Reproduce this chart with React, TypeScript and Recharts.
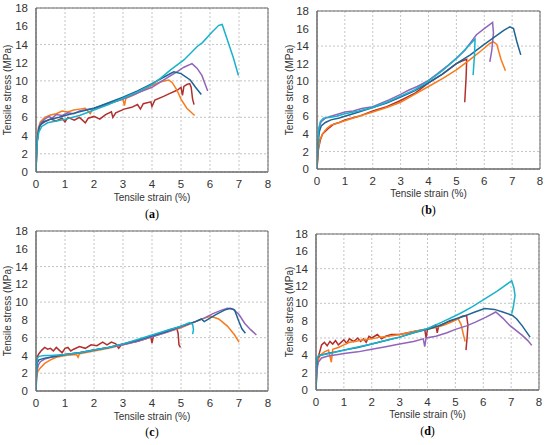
import React from "react";
import { LineChart, Line, XAxis, YAxis, CartesianGrid, ReferenceArea } from "recharts";

// ---- tick labels ----
const xTicks = [0, 1, 2, 3, 4, 5, 6, 7, 8];
const yTicks = [0, 2, 4, 6, 8, 10, 12, 14, 16, 18];
const xTitle = "Tensile strain (%)";
const yTitle = "Tensile stress (MPa)";
const captions = ["a", "b", "c", "d"];

// ---- panel (a) ----
const aRed = [[0,0],[0.03,3],[0.08,4.5],[0.15,5.2],[0.3,5.5],[0.5,5.8],[0.7,5.6],[0.9,5.9],[1.0,5.5],[1.1,6.0],[1.32,5.7],[1.5,6.0],[1.7,5.4],[1.8,5.9],[2.0,6.1],[2.2,5.8],[2.4,6.3],[2.6,6.6],[2.65,6.0],[2.75,6.5],[3.04,6.9],[3.3,7.1],[3.5,7.4],[3.6,6.9],[3.7,7.5],[3.96,7.7],[4.0,7.2],[4.1,7.9],[4.4,8.3],[4.6,8.6],[4.88,9.0],[5.0,9.3],[5.05,8.4],[5.1,9.4],[5.2,9.6],[5.3,9.7],[5.35,9.3],[5.4,8.0],[5.45,7.4]];
const aOrange = [[0,0],[0.03,3],[0.08,4.8],[0.15,5.5],[0.3,6.0],[0.5,6.25],[0.7,6.4],[0.9,6.7],[1.1,6.6],[1.3,6.8],[1.5,6.9],[1.7,7.0],[1.87,6.4],[1.95,6.9],[2.2,7.1],[2.5,7.5],[2.8,7.8],[3.0,8.0],[3.05,7.3],[3.1,8.1],[3.4,8.5],[3.7,9.0],[4.0,9.5],[4.3,9.9],[4.58,10.1],[4.7,9.8],[4.86,9.0],[5.0,8.0],[5.2,7.0],[5.47,6.2]];
const aPurple = [[0,0],[0.03,3],[0.08,4.5],[0.15,5.3],[0.3,5.8],[0.45,6.1],[0.55,5.9],[0.7,6.3],[0.9,6.2],[1.1,6.5],[1.3,6.4],[1.5,6.7],[1.8,6.9],[2.0,7.0],[2.3,7.3],[2.6,7.6],[3.0,8.0],[3.3,8.4],[3.6,8.8],[4.0,9.3],[4.3,9.9],[4.6,10.5],[4.86,11.0],[5.1,11.5],[5.38,11.9],[5.55,11.4],[5.72,10.6],[5.85,9.5],[5.92,8.9]];
const aBlue = [[0,0],[0.02,2.5],[0.06,4],[0.12,5],[0.25,5.5],[0.5,5.8],[0.8,6.0],[1.0,6.2],[1.5,6.6],[2.0,7.0],[2.5,7.6],[3.0,8.2],[3.5,8.9],[4.0,9.7],[4.4,10.4],[4.75,11.0],[5.0,10.8],[5.32,10.1],[5.5,9.3],[5.7,8.5]];
const aCyan = [[0,0],[0.02,2],[0.05,3.5],[0.1,4.4],[0.2,5.0],[0.4,5.4],[0.7,5.6],[1.0,5.8],[1.5,6.2],[2.0,6.8],[2.5,7.4],[3.0,8.1],[3.5,8.8],[4.0,9.6],[4.3,10.3],[4.64,11.2],[5.1,12.3],[5.57,13.8],[5.74,14.2],[6.08,15.4],[6.3,16.1],[6.42,16.2],[6.6,14.5],[6.8,12.6],[6.98,10.6]];

// ---- panel (b) ----
const bRed = [[0,0],[0.05,2.3],[0.12,3.3],[0.2,4.0],[0.4,4.6],[0.6,5.1],[0.8,5.3],[1.0,5.6],[1.5,6.0],[2.0,6.6],[2.5,7.1],[3.0,7.8],[3.3,8.3],[3.5,8.6],[4.0,9.8],[4.5,10.8],[5.0,12.0],[5.2,12.3],[5.37,12.5],[5.35,10.5],[5.3,7.6]];
const bOrange = [[0,0],[0.04,2],[0.1,3.3],[0.2,4.0],[0.35,4.6],[0.5,5.0],[0.8,5.3],[1.0,5.5],[1.5,6.0],[2.0,6.5],[2.5,7.0],[3.0,7.6],[3.5,8.5],[4.0,9.4],[4.5,10.3],[5.0,11.3],[5.5,12.5],[5.9,13.5],[6.2,14.3],[6.32,14.5],[6.45,14.2],[6.6,12.5],[6.76,11.2]];
const bPurple = [[0,0],[0.03,3],[0.08,4.8],[0.15,5.4],[0.3,5.8],[0.5,6.0],[0.8,6.3],[1.0,6.5],[1.3,6.6],[1.6,6.9],[2.0,7.1],[2.3,7.5],[2.6,7.9],[3.0,8.5],[3.3,9.0],[3.6,9.4],[4.0,10.1],[4.3,10.8],[4.7,11.8],[5.0,12.6],[5.3,13.5],[5.72,15.3],[6.0,16.0],[6.3,16.7],[6.33,15.5],[6.27,13.5],[6.2,12.2]];
const bBlue = [[0,0],[0.03,2.5],[0.08,4.2],[0.15,4.9],[0.3,5.3],[0.5,5.6],[0.8,5.8],[1.0,6.0],[1.5,6.5],[2.0,7.0],[2.5,7.5],[3.0,8.2],[3.5,8.9],[4.0,9.8],[4.5,10.8],[5.0,12.0],[5.5,13.0],[6.0,14.2],[6.4,15.1],[6.7,15.8],[6.92,16.2],[7.05,16.0],[7.17,14.5],[7.31,13.0]];
const bCyan = [[0,0],[0.02,2],[0.06,4.5],[0.12,5.4],[0.23,5.8],[0.5,5.9],[0.7,6.0],[1.0,6.3],[1.5,6.6],[2.0,7.0],[2.5,7.6],[3.0,8.3],[3.5,9.0],[4.0,10.0],[4.5,11.2],[5.0,12.6],[5.4,13.9],[5.67,14.8],[5.65,13],[5.6,10.7]];

// ---- panel (c) ----
const cRed = [[0,0],[0.02,3],[0.05,3.9],[0.1,4.2],[0.2,4.6],[0.3,4.9],[0.4,4.7],[0.5,4.8],[0.6,4.5],[0.7,4.9],[0.8,4.6],[0.9,4.3],[1.0,4.8],[1.1,4.9],[1.2,4.5],[1.3,4.7],[1.5,5.0],[1.7,4.8],[1.9,5.2],[2.1,5.1],[2.3,5.5],[2.45,5.2],[2.6,5.5],[2.75,5.3],[2.85,4.8],[2.95,5.2],[3.2,5.4],[3.5,5.6],[3.8,5.9],[3.95,6.2],[4.0,5.4],[4.05,6.2],[4.3,6.5],[4.6,6.9],[4.85,7.1],[4.9,6.5],[4.93,5.2],[4.98,4.9]];
const cOrange = [[0,0],[0.02,1.5],[0.06,2.2],[0.15,2.6],[0.3,3.1],[0.5,3.5],[0.7,3.8],[1.0,4.0],[1.4,4.1],[1.45,3.8],[1.5,4.2],[2.0,4.5],[2.5,4.8],[3.0,5.2],[3.5,5.6],[4.0,6.1],[4.5,6.6],[5.0,7.1],[5.5,7.8],[5.8,8.2],[6.03,8.4],[6.3,8.1],[6.6,7.3],[6.85,6.3],[7.0,5.5]];
const cPurple = [[0,0],[0.03,2.2],[0.08,2.9],[0.15,3.3],[0.3,3.6],[0.5,3.8],[1.0,4.1],[1.5,4.3],[2.0,4.6],[2.5,4.9],[3.0,5.2],[3.5,5.6],[4.0,6.1],[4.5,6.6],[5.0,7.2],[5.5,7.8],[5.8,8.2],[6.1,8.7],[6.4,9.1],[6.6,9.3],[6.8,9.2],[7.0,8.6],[7.2,7.6],[7.4,6.9],[7.6,6.3]];
const cBlue = [[0,0],[0.02,2.5],[0.05,3.2],[0.1,3.5],[0.3,3.7],[0.5,3.8],[1.0,4.1],[1.5,4.3],[2.0,4.6],[2.5,4.9],[3.0,5.3],[3.5,5.7],[4.0,6.2],[4.5,6.7],[5.0,7.3],[5.5,7.8],[5.7,8.1],[5.8,7.8],[5.9,8.0],[6.2,8.6],[6.5,9.1],[6.7,9.3],[6.85,9.1],[7.0,7.8],[7.1,7.0],[7.22,6.5]];
const cCyan = [[0,0],[0.02,2.8],[0.05,3.7],[0.1,3.9],[0.3,4.0],[0.5,4.0],[1.0,4.1],[1.5,4.3],[2.0,4.6],[2.5,4.9],[3.0,5.3],[3.5,5.8],[4.0,6.3],[4.5,6.8],[5.0,7.3],[5.3,7.7],[5.4,7.5],[5.43,6.9],[5.4,6.4]];

// ---- panel (d) ----
const dRed = [[0,0],[0.03,2.5],[0.08,3.8],[0.15,4.6],[0.2,5.2],[0.3,5.5],[0.4,5.1],[0.5,5.6],[0.6,5.3],[0.7,5.7],[0.8,5.2],[0.9,5.5],[1.0,5.8],[1.1,5.4],[1.2,5.9],[1.35,5.6],[1.5,6.0],[1.6,5.6],[1.7,5.9],[1.8,5.5],[1.9,6.2],[2.0,6.0],[2.2,6.4],[2.35,5.9],[2.5,6.2],[2.7,6.4],[3.0,6.4],[3.3,6.6],[3.6,6.8],[3.9,7.0],[3.95,6.0],[4.0,7.0],[4.3,7.5],[4.35,6.6],[4.4,7.4],[4.7,7.8],[5.0,8.1],[5.25,8.5],[5.4,8.6],[5.45,7.5],[5.42,6.0],[5.38,4.6]];
const dOrange = [[0,0],[0.03,2.5],[0.08,3.5],[0.15,4.0],[0.3,4.4],[0.45,4.6],[0.55,3.2],[0.6,4.7],[0.8,4.9],[1.0,5.2],[1.2,5.5],[1.4,5.6],[1.7,5.8],[2.0,5.9],[2.3,6.1],[2.6,6.2],[3.0,6.4],[3.3,6.6],[3.6,6.8],[4.0,7.0],[4.3,7.2],[4.6,7.5],[4.9,7.9],[5.1,8.2],[5.2,7.6],[5.28,6.5],[5.35,5.6]];
const dPurple = [[0,0],[0.03,2.2],[0.08,3.2],[0.2,3.7],[0.4,3.9],[0.6,4.0],[0.8,4.1],[1.0,4.2],[1.5,4.4],[2.0,4.7],[2.5,5.0],[3.0,5.3],[3.5,5.6],[3.85,5.9],[3.9,5.0],[3.95,6.0],[4.3,6.2],[4.7,6.6],[5.0,7.0],[5.4,7.4],[5.7,7.8],[6.1,8.4],[6.45,9.0],[6.7,8.3],[6.95,7.45],[7.4,6.3],[7.6,5.7],[7.74,5.15]];
const dBlue = [[0,0],[0.02,2.5],[0.05,3.8],[0.15,4.0],[0.4,4.2],[0.7,4.4],[1.0,4.6],[1.5,4.9],[2.0,5.3],[2.5,5.7],[3.0,6.1],[3.5,6.6],[4.0,7.0],[4.5,7.5],[4.8,8.0],[5.3,8.5],[5.7,9.0],[6.05,9.4],[6.4,9.3],[6.7,9.0],[7.05,8.6],[7.2,8.2],[7.4,7.4],[7.68,6.1]];
const dCyan = [[0,0],[0.02,3.2],[0.05,3.8],[0.1,4.0],[0.3,4.1],[0.6,4.3],[1.21,4.77],[2.0,5.3],[2.5,5.7],[3.0,6.1],[3.5,6.6],[4.0,7.1],[4.5,7.8],[5.15,8.8],[5.6,9.6],[6.0,10.4],[6.5,11.4],[7.02,12.6],[7.1,11.8],[7.14,10.9],[7.08,9.6],[7.02,8.8]];

// ---- colours (drawing order: red, orange, purple, blue, cyan) ----
const seriesColors = ["#B0302D", "#F97A1A", "#9065BA", "#1E6496", "#19B2CB"];

const panelSeries = [
  [aRed, aOrange, aPurple, aBlue, aCyan],
  [bRed, bOrange, bPurple, bBlue, bCyan],
  [cRed, cOrange, cPurple, cBlue, cCyan],
  [dRed, dOrange, dPurple, dBlue, dCyan],
];

// plot-area geometry per panel: left, top, width, height; title/caption centres
const layouts = [
  { l: 36, t: 8, w: 232, h: 164, yx: 8, xt: 198, cap: 214 },
  { l: 317, t: 11, w: 223, h: 158, yx: 290, xt: 194, cap: 210 },
  { l: 36, t: 231, w: 232, h: 160, yx: 8, xt: 417, cap: 432 },
  { l: 316, t: 234, w: 223, h: 156, yx: 290, xt: 415, cap: 431 },
];

const FONT = "'Liberation Sans', Arial, sans-serif";
const AXIS_W = 36;
const M_TOP = 6;
const M_RIGHT = 6;
const X_H = 40;

const toPts = (arr: number[][]) => arr.map(([x, y]) => ({ x, y }));

function Panel({ idx }: { idx: number }) {
  const L = layouts[idx];
  const series = panelSeries[idx];
  const cw = L.w + AXIS_W + M_RIGHT;
  const ch = L.h + M_TOP + X_H;
  const cx = L.l + L.w / 2;
  const cy = L.t + L.h / 2;
  return (
    <>
      <div style={{ position: "absolute", left: L.l - AXIS_W, top: L.t - M_TOP }}>
        <LineChart width={cw} height={ch} margin={{ top: M_TOP, right: M_RIGHT, bottom: 0, left: 0 }}>
          <CartesianGrid stroke="#C4C4C4" strokeDasharray="2 2" />
          <XAxis
            type="number"
            dataKey="x"
            domain={[0, 8]}
            ticks={xTicks}
            height={X_H}
            tickLine={false}
            axisLine={{ stroke: "#6B6B6B" }}
            tick={{ fill: "#333", fontSize: 11.5, fontFamily: FONT }}
            allowDataOverflow
          />
          <YAxis
            type="number"
            domain={[0, 18]}
            ticks={yTicks}
            width={AXIS_W}
            tickLine={false}
            axisLine={{ stroke: "#6B6B6B" }}
            tick={{ fill: "#333", fontSize: 11.5, fontFamily: FONT }}
            allowDataOverflow
          />
          <ReferenceArea x1={0} x2={8} y1={0} y2={18} fill="none" stroke="#6B6B6B" strokeWidth={1} />
          {series.map((s, i) => (
            <Line
              key={i}
              data={toPts(s)}
              dataKey="y"
              type="linear"
              stroke={seriesColors[i]}
              strokeWidth={1.5}
              dot={false}
              activeDot={false}
              isAnimationActive={false}
            />
          ))}
        </LineChart>
      </div>
      <div
        style={{
          position: "absolute",
          left: L.yx,
          top: cy,
          transform: "translate(-50%, -50%) rotate(-90deg)",
          whiteSpace: "nowrap",
          fontFamily: FONT,
          fontSize: 10,
          color: "#333",
          lineHeight: 1,
        }}
      >
        {yTitle}
      </div>
      <div
        style={{
          position: "absolute",
          left: cx,
          top: L.xt,
          transform: "translate(-50%, -50%)",
          whiteSpace: "nowrap",
          fontFamily: FONT,
          fontSize: 10,
          color: "#333",
          lineHeight: 1,
        }}
      >
        {xTitle}
      </div>
      <div
        style={{
          position: "absolute",
          left: cx,
          top: L.cap,
          transform: "translate(-50%, -50%)",
          whiteSpace: "nowrap",
          fontFamily: "'Liberation Serif', 'Times New Roman', serif",
          fontSize: 12,
          color: "#000",
          lineHeight: 1,
        }}
      >
        (<b>{captions[idx]}</b>)
      </div>
    </>
  );
}

export default function App() {
  return (
    <div style={{ position: "absolute", left: 0, top: 0, width: 550, height: 445, background: "#fff", overflow: "hidden" }}>
      {[0, 1, 2, 3].map((i) => (
        <Panel key={i} idx={i} />
      ))}
    </div>
  );
}
